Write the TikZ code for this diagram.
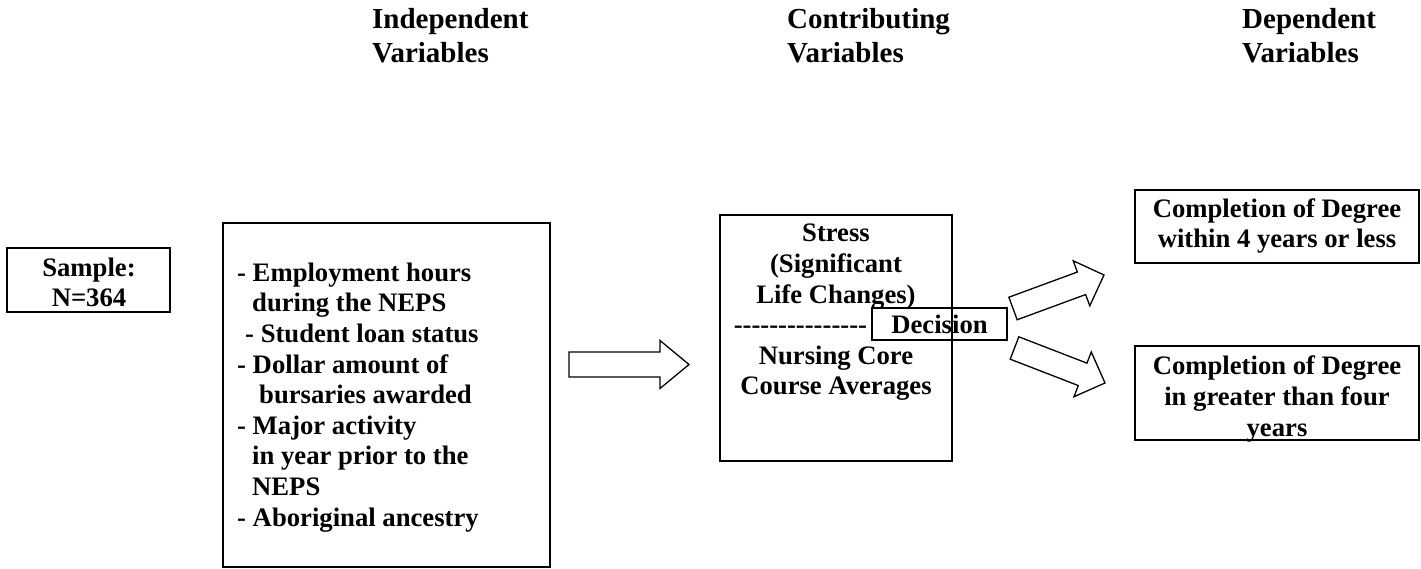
\documentclass[tikz,border=0pt]{standalone}
\usepackage{fontspec}
\setmainfont{Liberation Serif}
\usetikzlibrary{calc}
\tikzset{
  box/.style={draw, line width=2pt, inner sep=0pt},
  body/.style={font=\fontsize{26.67}{30.6}\selectfont\bfseries, inner sep=0pt},
  bodywide/.style={font=\fontsize{26.67}{31}\selectfont\bfseries, inner sep=0pt},
  head/.style={font=\fontsize{29}{34.5}\selectfont\bfseries, inner sep=0pt, align=left, anchor=west},
  barrow/.style={draw, line width=1.3pt, line join=miter},
}
\newcommand\hy{-\kern0pt}
\newcommand\dashrow{\hy\hy\hy\hy\hy\hy\hy\hy\hy\hy\hy\hy\hy\hy\hy}
% #1 tail, #2 tip, #3 body half width, #4 head half width, #5 head length
\newcommand\blockarrow[5]{%
  \coordinate (#1#2h) at ($(#2)!#5!(#1)$);
  \draw[barrow] ($(#1)!#3!90:(#2)$) -- ($(#1#2h)!#3!90:(#2)$) -- ($(#1#2h)!#4!90:(#2)$)
    -- (#2) -- ($(#1#2h)!#4!-90:(#2)$) -- ($(#1#2h)!#3!-90:(#2)$) -- ($(#1)!#3!-90:(#2)$) -- cycle;
}
\begin{document}
\begin{tikzpicture}[x=1pt,y=-1pt]
\useasboundingbox (0,0) rectangle (1421,569);

% headers
\node[head] (h1) at (372,35.5) {Independent\\Variables};
\node[head] (h2) at (787,35.5) {Contributing\\Variables};
\node[head] (h3) at (1242,35.5) {Dependent\\Variables};

% boxes
\node[box, minimum width=163pt, minimum height=64pt] (sample) at (88.5,280) {};
\node[box, minimum width=327pt, minimum height=344pt] (indep) at (386.5,395) {};
\node[box, minimum width=232pt, minimum height=246pt] (contrib) at (836,338) {};
\node[box, body, minimum width=135pt, minimum height=32pt] (decision) at (939.5,324) {Decision};
\node[box, minimum width=284pt, minimum height=73pt] (dep1) at (1277,226.5) {};
\node[box, minimum width=284pt, minimum height=94pt] (dep2) at (1277,393) {};

% texts
\node[body, align=center] (sampletxt) at (89,282.3) {Sample:\\N=364};
\node[body, align=left, anchor=west] (indeptxt) at (237,397.3) {%
- Employment hours\\
\hspace*{15pt}during the NEPS\\
\hspace*{8pt}- Student loan status\\
- Dollar amount of\\
\hspace*{22pt}bursaries awarded\\
- Major activity\\
\hspace*{15pt}in year prior to the\\
\hspace*{15pt}NEPS\\
- Aboriginal ancestry};
\node[body, align=center] (contribtxt) at (836,312.5) {Stress\\(Significant\\Life Changes)\\\makebox[204.4pt][l]{\dashrow}\\Nursing Core\\Course Averages};
\node[body, align=center] (dep1txt) at (1277,226) {Completion of Degree\\within 4 years or less};
\node[bodywide, align=center] (dep2txt) at (1277,398.7) {Completion of Degree\\in greater than four\\years};

% block arrows
\coordinate (a1s) at (569,364.5);
\coordinate (a1e) at (689,364.5);
\coordinate (a2s) at (1013,308.5);
\coordinate (a2e) at (1104,275);
\coordinate (a3s) at (1014.5,348);
\coordinate (a3e) at (1105,383);
\blockarrow{a1s}{a1e}{12.5pt}{24pt}{29pt}
\blockarrow{a2s}{a2e}{12pt}{24pt}{24pt}
\blockarrow{a3s}{a3e}{12pt}{24pt}{24pt}
\end{tikzpicture}
\end{document}
